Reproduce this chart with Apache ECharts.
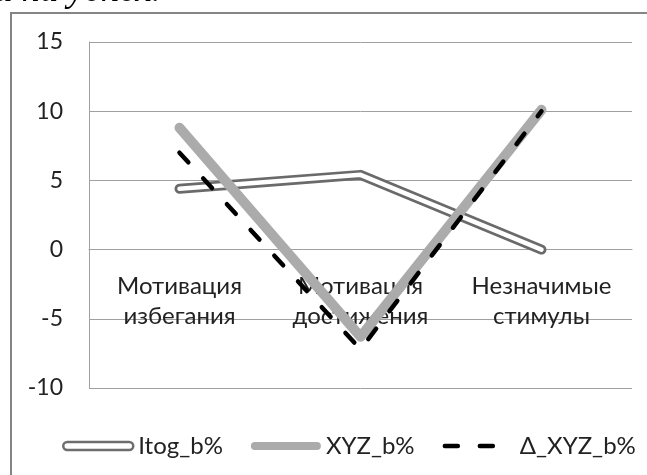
<!DOCTYPE html>
<html>
<head>
<meta charset="utf-8">
<script src="https://cdn.jsdelivr.net/npm/echarts@6/dist/echarts.min.js"></script>
<style>
    html, body { margin: 0; padding: 0; background: #fff; }
    #chart { width: 647px; height: 475px; }
</style>
</head>
<body>
<div id="chart"></div>
<script>
    // данные графика
    var categories = ['Мотивация\nизбегания', 'Мотивация\nдостижения', 'Незначимые\nстимулы'];
    var itogValues = [4.4, 5.4, 0];
    var xyzValues = [8.8, -6.3, 10.1];
    var deltaValues = [7.0, -7.2, 10.0];
    var seriesNames = ['Itog_b%', 'XYZ_b%', 'Δ_XYZ_b%'];
    var yTicks = { min: -10, max: 15, step: 5 };

    var font = 'Lato, "Open Sans", sans-serif';
    var textColor = '#222';
    var gridColor = '#a0a0a0';
    var capsule = 'path://M4,0 H66 A4,4 0 0 1 66,8 H4 A4,4 0 0 1 4,0 Z';

    var gridTop = 42, gridHeight = 346;
    // ось категорий проходит через ноль, поднимаем её от низа сетки
    var zeroOffset = -gridHeight * (0 - yTicks.min) / (yTicks.max - yTicks.min);

    var myChart = echarts.init(document.getElementById('chart'));

    var option = {
        animation: false,
        backgroundColor: '#fff',
        graphic: [
            {
                // обрывок текста над диаграммой
                type: 'text',
                left: -6,
                top: -27,
                style: {
                    text: 'и на успех.',
                    font: 'italic 37px "Liberation Serif", serif',
                    fill: '#000'
                }
            },
            {
                // рамка диаграммы
                type: 'rect',
                shape: { x: 11, y: 13, width: 700, height: 500 },
                style: { fill: 'none', stroke: '#858585', lineWidth: 2 }
            }
        ],
        grid: {
            left: 89,
            right: 15,
            top: gridTop,
            height: gridHeight
        },
        legend: {
            left: 57,
            top: 429,
            itemWidth: 70,
            itemHeight: 8,
            itemGap: 28,
            textStyle: { fontFamily: font, fontSize: 24, color: textColor },
            data: [
                {
                    name: seriesNames[0],
                    icon: capsule,
                    itemStyle: { color: '#fff', borderColor: '#6e6e6e', borderWidth: 2.5 }
                },
                {
                    name: seriesNames[1],
                    icon: capsule,
                    itemStyle: { color: '#ababab', borderWidth: 0 }
                },
                {
                    name: seriesNames[2],
                    itemStyle: { opacity: 0 },
                    lineStyle: { width: 4.5 }
                }
            ]
        },
        xAxis: {
            type: 'category',
            data: categories,
            offset: zeroOffset,
            axisLine: { onZero: false, lineStyle: { color: gridColor, width: 1 } },
            axisTick: { show: false },
            splitLine: { show: false },
            axisLabel: {
                interval: 0,
                margin: 22,
                fontFamily: font,
                fontSize: 24,
                lineHeight: 30,
                color: textColor
            }
        },
        yAxis: {
            type: 'value',
            min: yTicks.min,
            max: yTicks.max,
            interval: yTicks.step,
            axisLine: { show: true, lineStyle: { color: gridColor, width: 1 } },
            axisTick: { show: false },
            splitLine: { lineStyle: { color: gridColor, width: 1 } },
            axisLabel: {
                margin: 26,
                fontFamily: font,
                fontSize: 23,
                color: textColor
            }
        },
        series: [
            {
                // двойная линия: сначала толстая серая...
                name: seriesNames[0],
                type: 'line',
                data: itogValues,
                symbol: 'none',
                lineStyle: { color: '#6a6a6a', width: 10, cap: 'round', join: 'round' }
            },
            {
                // ...потом белая поверх
                name: seriesNames[0],
                type: 'line',
                data: itogValues,
                symbol: 'none',
                lineStyle: { color: '#fff', width: 4.5, cap: 'round', join: 'round' }
            },
            {
                name: seriesNames[1],
                type: 'line',
                data: xyzValues,
                symbol: 'none',
                lineStyle: { color: '#ababab', width: 10, cap: 'round', join: 'round' }
            },
            {
                name: seriesNames[2],
                type: 'line',
                data: deltaValues,
                symbol: 'none',
                lineStyle: { color: '#000', width: 4.5, type: [13, 22], cap: 'round', join: 'round' }
            }
        ]
    };
    myChart.setOption(option);
</script>
</body>
</html>
